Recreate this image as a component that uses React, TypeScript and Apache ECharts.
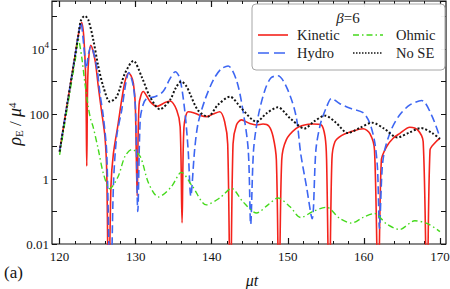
import { useEffect, useRef } from "react";
import * as echarts from "echarts";

// ---- data (time μt, energy density ρE/μ^4) ----
const xMajorTicks = [120, 130, 140, 150, 160, 170];
const xMinorTicks = [122, 124, 126, 128, 132, 134, 136, 138, 142, 144, 146, 148, 152, 154, 156, 158, 162, 164, 166, 168];
const yLabelValues = ["0.01", "1", "100", "10^4"];

const kinetic: [number, number][] = [
  [120, 7], [121, 200], [122, 5500], [122.5, 30000], [122.9, 65000], [123.2, 20000],
  [123.45, 800], [123.57, 2.5], [123.68, 800], [123.85, 6000], [124.1, 13000], [124.65, 4600],
  [125.09, 690], [125.5, 130], [125.96, 20], [126.2, 1.5], [126.45, 0.0001], [126.75, 0.6],
  [127.07, 6], [127.7, 51], [128.16, 270], [128.6, 1000], [129.03, 1800], [129.4, 1500],
  [129.7, 870], [129.95, 200], [130.2, 0.3], [130.45, 200], [131.0, 490], [131.9, 240],
  [132.76, 170], [133.86, 225], [134.5, 250], [135.4, 130], [135.85, 40], [136.1, 0.045],
  [136.35, 40], [136.9, 117], [137.6, 110], [138.5, 90], [139.3, 83], [140.2, 100],
  [141.05, 117], [141.7, 58], [142.1, 12], [142.45, 0.0001], [142.8, 12], [143.25, 46],
  [143.9, 66], [145, 51], [145.9, 46], [146.75, 49], [147.5, 43], [148.07, 20],
  [148.5, 3.8], [148.85, 0.0001], [149.2, 3.8], [149.8, 16], [151.1, 36], [152.2, 46],
  [153.3, 49], [154.4, 46], [154.9, 20], [155.1, 4], [155.45, 0.0001], [155.8, 4],
  [156.2, 14], [157.1, 22], [158.2, 28], [159.9, 35], [160.8, 25], [161.4, 7.8],
  [161.9, 0.0001], [162.3, 3.8], [163.0, 10], [163.85, 18], [164.7, 25], [166.05, 39],
  [167.1, 32], [167.8, 14], [168.3, 0.0001], [168.7, 7.8], [169.3, 12.6], [170, 18],
];

const hydro: [number, number][] = [
  [120, 7], [121, 200], [122, 5500], [122.5, 30000], [122.8, 65000], [123.15, 15000],
  [123.5, 2500], [123.8, 7000], [124.12, 12000], [124.87, 2900], [125.3, 440], [125.75, 83],
  [126.2, 6], [126.7, 0.0001], [127.07, 0.6], [127.5, 20], [128.16, 130], [128.7, 870],
  [129.1, 1900], [129.7, 690], [130.0, 100], [130.28, 0.1], [130.6, 70], [131.0, 200],
  [131.45, 300], [132.5, 340], [133.6, 490], [134.5, 1200], [135.2, 2000], [135.8, 1260],
  [136.45, 130], [136.9, 7.8], [137.25, 0.3], [137.75, 7.8], [138.2, 51], [139.1, 270],
  [140.2, 1100], [141.2, 2400], [142.15, 3000], [143.25, 1100], [144.1, 130], [144.8, 7.8],
  [145.12, 0.04], [145.5, 7.8], [146.1, 83], [147, 550], [147.8, 1300], [148.7, 1500],
  [150.0, 550], [151.1, 83], [151.7, 6], [152.45, 0.6], [153.2, 0.06], [153.7, 8],
  [154.3, 50], [155.1, 165], [155.75, 300], [156.8, 210], [158.2, 150], [159.9, 110],
  [160.8, 51], [161.45, 12.6], [161.8, 2], [162.05, 0.03], [162.4, 2], [162.75, 8],
  [163.65, 35], [164.7, 93], [166.05, 190], [167.6, 260], [168.9, 93], [170, 19],
];

const ohmic: [number, number][] = [
  [120, 5.5], [121, 150], [121.8, 2000], [122.2, 7600], [122.45, 20000], [122.9, 5800],
  [123.33, 870], [123.77, 165], [124.1, 66], [124.4, 41], [125.1, 7.8], [125.75, 1.5],
  [126.6, 0.5], [127.7, 1.2], [128.6, 5], [129.5, 8.1], [130.6, 4.9], [131.7, 0.74],
  [133.0, 0.28], [134.7, 0.58], [136.0, 1.6], [137.5, 0.58], [139.3, 0.16], [141.05, 0.26],
  [142.6, 0.51], [144.1, 0.2], [145.9, 0.09], [147.4, 0.16], [148.7, 0.26], [150.3, 0.14],
  [151.7, 0.065], [153.3, 0.1], [155.1, 0.135], [156.8, 0.062], [158.4, 0.044], [159.9, 0.066],
  [161.4, 0.087], [163, 0.041], [164.7, 0.028], [166.7, 0.052], [168.5, 0.041], [170, 0.024],
];

const noSE: [number, number][] = [
  [120, 7], [121, 200], [122, 5500], [122.5, 30000], [122.8, 75000], [123.3, 105000],
  [123.78, 78000], [124.43, 19000], [125.09, 2900], [125.75, 690], [126.62, 240], [127.5, 340],
  [128.59, 1780], [129.7, 4300], [130.79, 1400], [131.88, 340], [133.2, 140], [134.51, 270],
  [135.3, 650], [136.0, 1000], [136.7, 700], [137.1, 440], [138.2, 130], [139.5, 83],
  [140.8, 190], [142.4, 340], [143.9, 150], [145.9, 58], [147.2, 105], [148.7, 160],
  [150.3, 74], [152.2, 36], [153.5, 60], [154.9, 89], [156.3, 55], [157.9, 26],
  [159.5, 38], [161.1, 54], [162.7, 35], [164.4, 19], [166, 27], [167.5, 37],
  [169, 26], [170, 17],
];

const seriesNames = ["Kinetic", "Hydro", "Ohmic", "No SE"];

const FONT = "'Liberation Serif', 'Times New Roman', serif";
const RED = "#f4231c";
const BLUE = "#3d66f2";
const GREEN = "#45d91c";
const BLACK = "#141414";

export default function App() {
  const ref = useRef<HTMLDivElement>(null);
  useEffect(() => {
    if (!ref.current) return;
    const chart = echarts.init(ref.current, null, { renderer: "svg" });
    const grid = { left: 52, right: 4, top: 1, bottom: 45 };
    const xBase = {
      type: "value" as const,
      min: 119,
      max: 170.8,
      splitLine: { show: false },
      axisLine: { show: false },
    };
    const yLabelFormatter = (v: number) => {
      const l = Math.log10(v);
      const e = Math.round(l);
      if (Math.abs(l - e) > 1e-6) return "";
      if (e === -2) return yLabelValues[0];
      if (e === 0) return yLabelValues[1];
      if (e === 2) return yLabelValues[2];
      if (e === 4) return "{b|10}{s|4}";
      return "";
    };
    const yBase = {
      type: "log" as const,
      logBase: 10,
      min: 0.01,
      max: 300000,
      interval: 1,
      splitLine: { show: false },
      axisLine: { show: false },
      axisTick: { inside: true, length: 5, lineStyle: { color: BLACK, width: 1 } },
    };
    const lineSeries = (name: string, data: [number, number][], color: string, width: number, dash: any, z: number) => ({
      name,
      type: "line" as const,
      data,
      symbol: "none",
      smooth: 0.3,
      clip: true,
      z,
      lineStyle: { color, width, type: dash, cap: "butt" },
    });
    chart.setOption({
      animation: false,
      grid: {
        ...grid,
        outerBoundsMode: "none",
        containLabel: false,
        show: true,
        borderColor: BLACK,
        borderWidth: 1.2,
        backgroundColor: "transparent",
      },
      xAxis: [
        {
          ...xBase,
          position: "bottom",
          axisTick: { inside: true, length: 6, customValues: xMajorTicks, lineStyle: { color: BLACK, width: 1.2 } },
          axisLabel: { customValues: xMajorTicks, margin: 6, fontFamily: FONT, fontSize: 13, color: BLACK },
        },
        {
          ...xBase,
          position: "bottom",
          axisTick: { inside: true, length: 3, customValues: xMinorTicks, lineStyle: { color: BLACK, width: 1 } },
          axisLabel: { show: false },
        },
        {
          ...xBase,
          position: "top",
          axisTick: { inside: true, length: 6, customValues: xMajorTicks, lineStyle: { color: BLACK, width: 1.2 } },
          axisLabel: { show: false },
        },
        {
          ...xBase,
          position: "top",
          axisTick: { inside: true, length: 3, customValues: xMinorTicks, lineStyle: { color: BLACK, width: 1 } },
          axisLabel: { show: false },
        },
      ],
      yAxis: [
        {
          ...yBase,
          position: "left",
          axisLabel: {
            formatter: yLabelFormatter,
            margin: 3,
            fontFamily: FONT,
            fontSize: 13,
            color: BLACK,
            rich: {
              b: { fontFamily: FONT, fontSize: 13, lineHeight: 18, color: BLACK },
              s: { fontFamily: FONT, fontSize: 9, lineHeight: 9, verticalAlign: "top", color: BLACK },
            },
          },
        },
        {
          ...yBase,
          position: "right",
          axisLabel: { show: false },
        },
      ],
      series: [
        lineSeries(seriesNames[0], kinetic, RED, 1.6, "solid", 2),
        lineSeries(seriesNames[1], hydro, BLUE, 1.6, [8, 4], 3),
        lineSeries(seriesNames[2], ohmic, GREEN, 1.4, [6, 3, 1.5, 3], 4),
        lineSeries(seriesNames[3], noSE, BLACK, 2, [2, 2], 5),
      ],
      graphic: [
        {
          type: "text",
          z: 101,
          x: 15,
          y: 124,
          rotation: Math.PI / 2,
          style: {
            text: "{i|ρ}{sub|E}{n| / }{i|μ}{sup|4}",
            textAlign: "center",
            textVerticalAlign: "middle",
            rich: {
              i: { fontFamily: FONT, fontStyle: "italic", fontSize: 18, lineHeight: 18, fill: BLACK },
              n: { fontFamily: FONT, fontSize: 17, lineHeight: 18, fill: BLACK },
              sub: { fontFamily: FONT, fontSize: 11, lineHeight: 9, verticalAlign: "bottom", fill: BLACK },
              sup: { fontFamily: FONT, fontSize: 11, lineHeight: 9, verticalAlign: "top", fill: BLACK },
            },
          },
        },
        {
          type: "text",
          z: 101,
          x: 252,
          y: 280,
          style: {
            text: "μt",
            font: `italic 16px ${FONT}`,
            fill: BLACK,
            textAlign: "center",
            textVerticalAlign: "middle",
          },
        },
        {
          type: "rect",
          z: 100,
          shape: { x: 252, y: 4, width: 193, height: 66, r: 4 },
          style: { fill: "rgba(255,255,255,0.95)", stroke: "#a6a6a6", lineWidth: 1 },
        },
        {
          type: "text",
          z: 101,
          x: 348,
          y: 18,
          style: {
            text: "{i|β}{n|=6}",
            textAlign: "center",
            textVerticalAlign: "middle",
            rich: {
              i: { fontFamily: FONT, fontStyle: "italic", fontSize: 15, fill: "#222" },
              n: { fontFamily: FONT, fontSize: 15, fill: "#222" },
            },
          },
        },
        { type: "line", z: 101, shape: { x1: 258, y1: 35, x2: 288, y2: 35 }, style: { stroke: RED, lineWidth: 1.6 } },
        { type: "line", z: 101, shape: { x1: 353, y1: 35, x2: 383, y2: 35 }, style: { stroke: GREEN, lineWidth: 1.3, lineDash: [6, 3, 1.5, 3] } },
        { type: "line", z: 101, shape: { x1: 258, y1: 53, x2: 288, y2: 53 }, style: { stroke: BLUE, lineWidth: 1.6, lineDash: [11, 5] } },
        { type: "line", z: 101, shape: { x1: 353, y1: 53, x2: 383, y2: 53 }, style: { stroke: BLACK, lineWidth: 1.5, lineDash: [1.5, 1.5] } },
        { type: "text", z: 101, x: 297, y: 35, style: { text: seriesNames[0], font: `14.5px ${FONT}`, fill: "#222", textVerticalAlign: "middle" } },
        { type: "text", z: 101, x: 297, y: 53, style: { text: seriesNames[1], font: `14.5px ${FONT}`, fill: "#222", textVerticalAlign: "middle" } },
        { type: "text", z: 101, x: 396, y: 35, style: { text: seriesNames[2], font: `14.5px ${FONT}`, fill: "#222", textVerticalAlign: "middle" } },
        { type: "text", z: 101, x: 396, y: 53, style: { text: seriesNames[3], font: `14.5px ${FONT}`, fill: "#222", textVerticalAlign: "middle" } },
        { type: "text", z: 101, x: 4, y: 272, style: { text: "(a)", font: `17px ${FONT}`, fill: BLACK, textVerticalAlign: "middle" } },
      ],
    });
    return () => chart.dispose();
  }, []);
  return <div ref={ref} style={{ position: "absolute", left: 0, top: 0, width: 450, height: 289 }} />;
}
